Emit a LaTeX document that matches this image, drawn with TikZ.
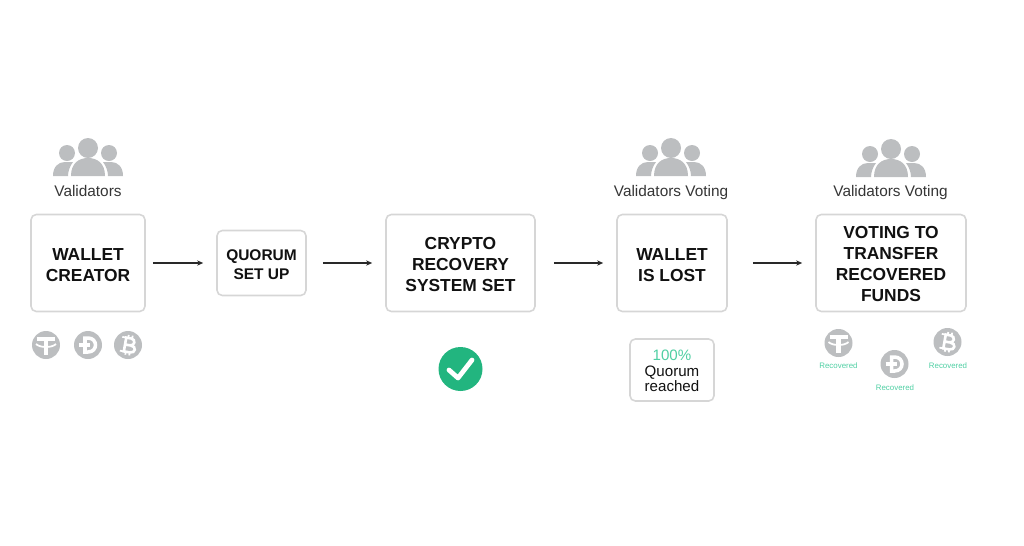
\documentclass[tikz,border=0pt]{standalone}
\usepackage{fontspec}
\setmainfont{Liberation Sans}
\usepackage{xcolor}
\usetikzlibrary{arrows.meta,positioning}
\definecolor{icongray}{HTML}{BCBEC0}
\definecolor{framegray}{HTML}{D6D6D6}
\definecolor{okgreen}{HTML}{22B57F}
\definecolor{lightgreen}{HTML}{4FCFA3}
\definecolor{inkdark}{HTML}{111111}
\newcommand{\toplift}[1]{\rule{0pt}{#1pt}}

\begin{document}
\begin{tikzpicture}[
  x=0.02cm, y=-0.02cm,
  box/.style 2 args={draw=framegray, line width=0.9pt, rounded corners=3pt, fill=white, minimum width=#1*0.02cm, minimum height=#2*0.02cm, inner sep=0pt, align=center, text=inkdark},
  bigtext/.style={font=\fontsize{9.9}{12}\selectfont\bfseries},
  smalltext/.style={font=\fontsize{8.8}{10.8}\selectfont\bfseries},
  label/.style={font=\fontsize{8.75}{10}\selectfont, text=inkdark!85, inner sep=0pt, anchor=base},
  tinylabel/.style={font=\fontsize{4.5}{5}\selectfont, text=lightgreen, inner sep=0pt},
  arrow/.style={-{Stealth[length=3.5pt,width=3pt]}, line width=0.75pt, inkdark!90, shorten <=#1*0.02cm, shorten >=13*0.02cm},
  glyph/.style={draw=white, line width=2pt},
  people/.pic={
    \fill[icongray] (0,0) circle (10);
    \fill[icongray] (-21,5) circle (8);
    \fill[icongray] (21,5) circle (8);
    \fill[icongray] (-17,28) .. controls (-17,15) and (-9,10) .. (0,10) .. controls (9,10) and (17,15) .. (17,28) -- cycle;
    \fill[icongray] (-35,28) .. controls (-35,19) and (-30,14) .. (-23,14) -- (-15,14) .. controls (-18,18) and (-20,23) .. (-20,28) -- cycle;
    \fill[icongray] (35,28) .. controls (35,19) and (30,14) .. (23,14) -- (15,14) .. controls (18,18) and (20,23) .. (20,28) -- cycle;
  },
  tether/.pic={
    \fill[icongray] (0,0) circle (14);
    \draw[glyph] (-9,-6) -- (9,-6);
    \draw[glyph, line width=2.6pt] (0,-6) -- (0,10);
    \draw[glyph, line width=1pt] (-10,-1) .. controls (-6,3) and (6,3) .. (10,-1);
  },
  doge/.pic={
    \fill[icongray] (0,0) circle (14);
    \draw[glyph] (-3,-7) -- (0,-7) .. controls (10,-7) and (10,7) .. (0,7) -- (-3,7) -- cycle;
    \draw[glyph] (-9,0) -- (2,0);
  },
  bitcoin/.pic={
    \fill[icongray] (0,0) circle (14);
    \begin{scope}[rotate=-10]
      \draw[glyph, line width=1.5pt] (-3,-7) -- (2,-7) .. controls (7,-7) and (7,0) .. (2,0) -- (-3,0) -- (3,0) .. controls (9,0) and (9,7) .. (3,7) -- (-3,7) -- cycle;
      \draw[glyph, line width=1pt] (-1,-10) -- (-1,-7) (3,-10) -- (3,-7) (-1,7) -- (-1,10) (3,7) -- (3,10);
      \draw[glyph, line width=1pt] (-7,-7) -- (-3,-7) (-7,7) -- (-3,7);
    \end{scope}
  },
]
\useasboundingbox (0,0) rectangle (1024,545);

% main row
\node[box={114}{97}, bigtext] (creator) at (88,263) {\toplift{8.8}WALLET\\CREATOR};
\node[box={89}{65}, smalltext] (quorum) at (261.5,263) {\toplift{7.6}QUORUM\\SET UP};
\node[box={149}{97}, bigtext] (system) at (460.5,263) {\toplift{8.8}CRYPTO\\RECOVERY\\SYSTEM SET};
\node[box={110}{97}, bigtext] (lost) at (672,263) {\toplift{8.8}WALLET\\IS LOST};
\node[box={150}{97}, bigtext] (transfer) at (891,263) {\toplift{8}VOTING TO\\TRANSFER\\RECOVERED\\FUNDS};

\draw[arrow=7] (creator) -- (quorum);
\draw[arrow=16] (quorum) -- (system);
\draw[arrow=18] (system) -- (lost);
\draw[arrow=25] (lost) -- (transfer);

% validators
\pic (crowdA) at (88,148) {people};
\pic (crowdB) at (671,148) {people};
\pic (crowdC) at (891,149) {people};
\node[label] (validators) at (88,196) {Validators};
\node[label] (votingA) at (671,196) {Validators Voting};
\node[label] (votingB) at (890.5,196) {Validators Voting};

% coins
\pic (coinA) at (46,345) {tether};
\pic (coinB) at (88,345) {doge};
\pic (coinC) at (128,345) {bitcoin};
\pic (coinD) at (838.5,343) {tether};
\pic (coinE) at (894.5,364) {doge};
\pic (coinF) at (947.5,342) {bitcoin};
\node[tinylabel] (recA) at (838.5,366) {Recovered};
\node[tinylabel] (recB) at (895,388) {Recovered};
\node[tinylabel] (recC) at (948,366) {Recovered};

% status
\node[circle, fill=okgreen, minimum size=44*0.02cm, inner sep=0pt] (tick) at (460.5,369) {};
\draw[white, line width=2.7pt, line cap=round, line join=round] (449,370) -- (458,378) -- (472,360);
\node[box={84}{62}, font=\fontsize{8.6}{8.6}\selectfont] (reached) at (672,370) {\toplift{7}\textcolor{lightgreen}{100\%}\\[0.6pt]Quorum\\reached};
\end{tikzpicture}
\end{document}
